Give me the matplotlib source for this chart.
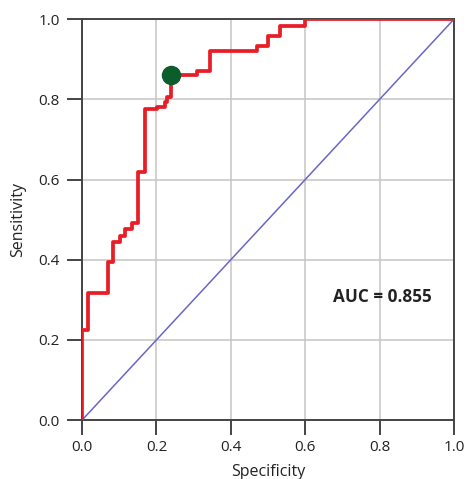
import matplotlib
matplotlib.use('Agg')
import matplotlib.pyplot as plt

# ROC staircase corners (x, sensitivity after the jump)
spec = [0.0, 0.0, 0.015, 0.07, 0.083, 0.102, 0.116, 0.134, 0.151, 0.169,
        0.201, 0.223, 0.228, 0.240, 0.308, 0.344, 0.470, 0.500, 0.532, 0.600, 1.0]
sens = [0.0, 0.225, 0.317, 0.394, 0.444, 0.459, 0.476, 0.491, 0.618, 0.776,
        0.781, 0.794, 0.806, 0.860, 0.870, 0.921, 0.933, 0.958, 0.983, 1.0, 1.0]
cut_x = 0.24
cut_y = 0.86
auc = 0.855
ticks = [0.0, 0.2, 0.4, 0.6, 0.8, 1.0]

plt.rcParams['font.family'] = ['Open Sans', 'DejaVu Sans']

fig = plt.figure(figsize=(4.69, 4.79), dpi=100)
ax = fig.add_axes([0.175, 0.123, 0.793, 0.837])

ax.plot([0, 1], [0, 1], color='#6a66c8', lw=1.1, zorder=2)
ax.step(spec, sens, where='post', color='#e81d25', lw=2.7, zorder=3)
ax.plot(cut_x, cut_y, 'o', color='#0b5e2b', markersize=13, zorder=4)

ax.text(0.675, 0.307, 'AUC = ' + str(auc), fontsize=12.3, fontweight='bold',
        color='#222222', va='center')

ax.set_xlim(0, 1)
ax.set_ylim(0, 1)
ax.set_xticks(ticks)
ax.set_yticks(ticks)
ax.set_xticklabels(['%.1f' % t for t in ticks])
ax.set_yticklabels(['%.1f' % t for t in ticks])
ax.grid(True, color='#c8c4c4', lw=1.1)
ax.set_axisbelow(True)
for s in ax.spines.values():
    s.set_color('#444444')
    s.set_linewidth(1.4)
ax.tick_params(length=11, width=1.4, color='#444444', labelsize=11,
               labelcolor='#222222', pad=3)
ax.tick_params(axis='y', pad=5)

ax.set_xlabel('Specificity', fontsize=11.5, color='#222222', labelpad=7)
ax.set_ylabel('Sensitivity', fontsize=11.5, color='#222222', labelpad=9)

plt.savefig('out.png', dpi=100)
